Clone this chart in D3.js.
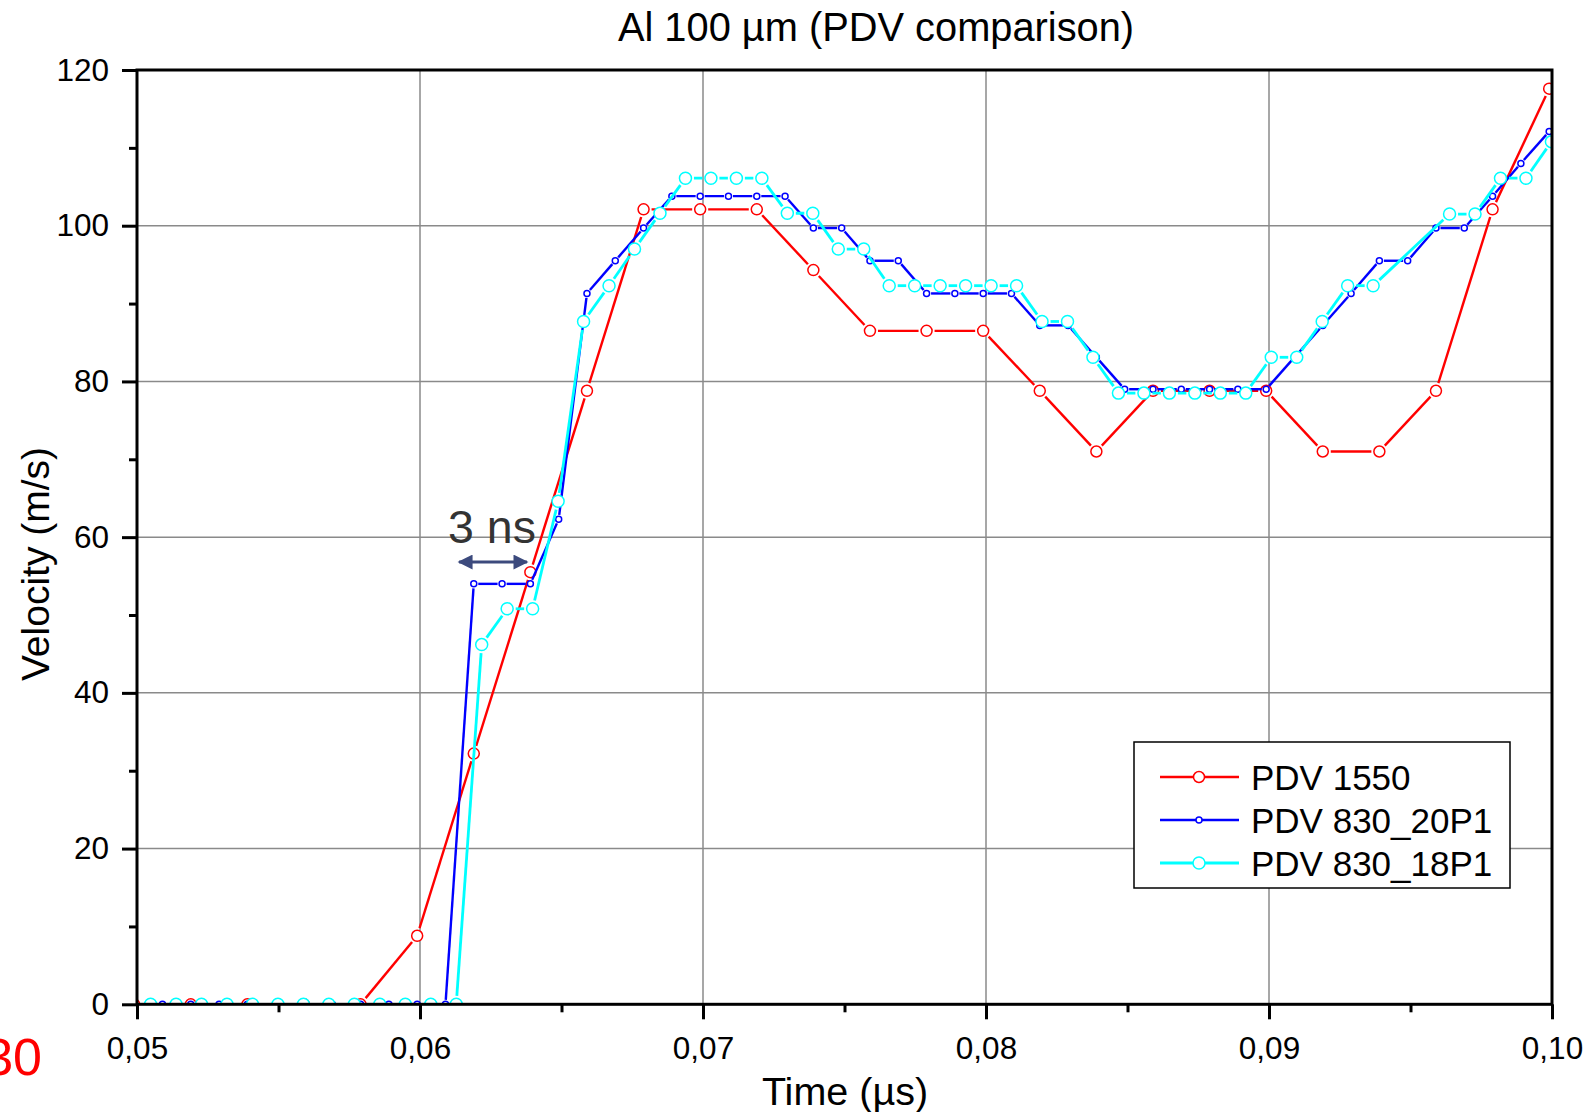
<!DOCTYPE html>
<html><head><meta charset="utf-8">
<script src="https://cdn.jsdelivr.net/npm/d3@7"></script>
<style>
body{margin:0;background:#fff;}
svg text{font-family:"Liberation Sans",Arial,Helvetica,sans-serif;}
</style>
</head><body>
<svg id="chart" width="1593" height="1112"></svg>
<script>
// ---------- DATA ----------
const chartTitle = "Al 100 µm (PDV comparison)";
const xLabel = "Time (µs)";
const yLabel = "Velocity (m/s)";
const seriesNames = ["PDV 1550", "PDV 830_20P1", "PDV 830_18P1"];

const xTickValues = [0.05, 0.06, 0.07, 0.08, 0.09, 0.10];
const xTickLabels = ["0,05", "0,06", "0,07", "0,08", "0,09", "0,10"];
const xMinorTicks = [0.055, 0.065, 0.075, 0.085, 0.095];
const yTickValues = [0, 20, 40, 60, 80, 100, 120];
const yTickLabels = ["0", "20", "40", "60", "80", "100", "120"];
const yMinorTicks = [10, 30, 50, 70, 90, 110];

const redTime = [0.0499,0.0519,0.0539,0.0559,0.0579,0.0599,0.0619,0.0639,0.0659,0.0679,0.0699,0.0719,0.0739,
  0.0759,0.0779,0.0799,0.0819,0.0839,0.0859,0.0879,0.0899,0.0919,0.0939,0.0959,0.0979,0.0999];
const redVel = [0,0,0,0,0,8.8,32.2,55.5,78.8,102.1,102.1,102.1,94.3,
  86.5,86.5,86.5,78.8,71.0,78.8,78.8,78.8,71.0,71.0,78.8,102.1,117.6];

const blueTime = [0.0499,0.0509,0.0519,0.0529,0.0539,0.0549,0.0559,0.0569,0.0579,0.0589,0.0599,0.0609,
  0.0619,0.0629,0.0639,0.0649,0.0659,0.0669,0.0679,0.0689,0.0699,0.0709,0.0719,0.0729,0.0739,0.0749,
  0.0759,0.0769,0.0779,0.0789,0.0799,0.0809,0.0819,0.0829,0.0839,0.0849,0.0859,0.0869,0.0879,0.0889,
  0.0899,0.0909,0.0919,0.0929,0.0939,0.0949,0.0959,0.0969,0.0979,0.0989,0.0999];
const blueVel = [0,0,0,0,0,0,0,0,0,0,0,0,
  54.0,54.0,54.0,62.3,91.3,95.5,99.7,103.8,103.8,103.8,103.8,103.8,99.7,99.7,
  95.5,95.5,91.3,91.3,91.3,91.3,87.2,87.2,83.1,79.0,79.0,79.0,79.0,79.0,
  79.0,83.1,87.2,91.3,95.5,95.5,99.7,99.7,103.8,108.0,112.1];

const cyanTime = [0.05048,0.05138,0.05228,0.05318,0.05408,0.05498,0.05588,0.05678,0.05768,0.05858,
  0.05948,0.06038,0.06128,0.06218,0.06308,0.06398,0.06488,0.06578,0.06668,0.06758,
  0.06848,0.06938,0.07028,0.07118,0.07208,0.07298,0.07388,0.07478,0.07568,0.07658,
  0.07748,0.07838,0.07928,0.08018,0.08108,0.08198,0.08288,0.08378,0.08468,0.08558,
  0.08648,0.08738,0.08828,0.08918,0.09008,0.09098,0.09188,0.09278,0.09368,
  0.09638,0.09728,0.09818,0.09908,0.09998];
const cyanVel = [0,0,0,0,0,0,0,0,0,0,
  0,0,0,46.2,50.8,50.8,64.6,87.7,92.3,97.0,
  101.6,106.1,106.1,106.1,106.1,101.6,101.6,97.0,97.0,92.3,
  92.3,92.3,92.3,92.3,92.3,87.7,87.7,83.1,78.5,78.5,
  78.5,78.5,78.5,78.5,83.1,83.1,87.7,92.3,92.3,
  101.5,101.5,106.1,106.1,110.8];

const annotationText = "3 ns";
const arrowFrom = 0.06138, arrowTo = 0.06378, arrowVel = 56.8;
const cornerText = "30";

// ---------- LAYOUT ----------
const svg = d3.select("#chart");
const L = 137, R = 1552, T = 70, B = 1004.3;
const x = d3.scaleLinear().domain([0.05, 0.10]).range([L, R]);
const y = d3.scaleLinear().domain([0, 120]).range([B, T]);

svg.append("defs").append("clipPath").attr("id","plotclip")
  .append("rect").attr("x",L).attr("y",T).attr("width",R-L).attr("height",B-T);

// grid
const grid = svg.append("g");
grid.selectAll("line.gx").data(xTickValues.slice(1,-1)).join("line")
  .attr("x1",d=>x(d)).attr("x2",d=>x(d)).attr("y1",T).attr("y2",B)
  .attr("stroke","#8a8a8a").attr("stroke-width",1.5);
grid.selectAll("line.gy").data(yTickValues.slice(1,-1)).join("line")
  .attr("y1",d=>y(d)).attr("y2",d=>y(d)).attr("x1",L).attr("x2",R)
  .attr("stroke","#8a8a8a").attr("stroke-width",1.5);

// series
const series = [
  {name:seriesNames[0], t:redTime, v:redVel, color:"#ff0000", r:5.5, w:2.4, gap:2.5},
  {name:seriesNames[1], t:blueTime, v:blueVel, color:"#0000ff", r:3, w:2.4, gap:1.5},
  {name:seriesNames[2], t:cyanTime, v:cyanVel, color:"#00ffff", r:6, w:2.8, gap:2.5}
];

const plot = svg.append("g").attr("clip-path","url(#plotclip)");
series.forEach(s => {
  const pts = s.t.map((t,i)=>[x(t), y(s.v[i])]);
  const segs = [];
  for (let i=0;i<pts.length-1;i++){
    const a=pts[i], b=pts[i+1];
    const dx=b[0]-a[0], dy=b[1]-a[1], len=Math.hypot(dx,dy);
    const off=s.r+s.gap;
    if (len>2*off){
      const ux=dx/len, uy=dy/len;
      segs.push([a[0]+ux*off, a[1]+uy*off, b[0]-ux*off, b[1]-uy*off]);
    }
  }
  const g = plot.append("g");
  g.selectAll("line").data(segs).join("line")
    .attr("x1",d=>d[0]).attr("y1",d=>d[1]).attr("x2",d=>d[2]).attr("y2",d=>d[3])
    .attr("stroke",s.color).attr("stroke-width",s.w);
  g.selectAll("circle").data(pts).join("circle")
    .attr("cx",d=>d[0]).attr("cy",d=>d[1]).attr("r",s.r)
    .attr("fill","white").attr("stroke",s.color).attr("stroke-width",1.5);
});

// frame
svg.append("rect").attr("x",L).attr("y",T).attr("width",R-L).attr("height",B-T)
  .attr("fill","none").attr("stroke","#000").attr("stroke-width",3);

// axes
const fontTick = 31.5;
const xAxis = svg.append("g").attr("transform",`translate(0,${B})`)
  .call(d3.axisBottom(x).tickValues(xTickValues).tickSize(15).tickPadding(17)
    .tickFormat((d,i)=>xTickLabels[i]).tickSizeOuter(0));
xAxis.select(".domain").remove();
xAxis.selectAll("line").attr("stroke","#000").attr("stroke-width",3);
xAxis.selectAll("text").attr("font-size",fontTick).attr("fill","#000");
const xMinor = svg.append("g").attr("transform",`translate(0,${B})`)
  .call(d3.axisBottom(x).tickValues(xMinorTicks).tickSize(8).tickFormat(""));
xMinor.select(".domain").remove();
xMinor.selectAll("line").attr("stroke","#000").attr("stroke-width",3);

const yAxis = svg.append("g").attr("transform",`translate(${L},0)`)
  .call(d3.axisLeft(y).tickValues(yTickValues).tickSize(15).tickPadding(13)
    .tickFormat((d,i)=>yTickLabels[i]).tickSizeOuter(0));
yAxis.select(".domain").remove();
yAxis.selectAll("line").attr("stroke","#000").attr("stroke-width",3);
yAxis.selectAll("text").attr("font-size",fontTick).attr("fill","#000");
const yMinor = svg.append("g").attr("transform",`translate(${L},0)`)
  .call(d3.axisLeft(y).tickValues(yMinorTicks).tickSize(8).tickFormat(""));
yMinor.select(".domain").remove();
yMinor.selectAll("line").attr("stroke","#000").attr("stroke-width",3);
svg.selectAll("g").attr("font-family",null);

// titles
svg.append("text").attr("x",876).attr("y",41).attr("text-anchor","middle")
  .attr("font-size",39.8).attr("fill","#000").text(chartTitle);
svg.append("text").attr("x",845).attr("y",1105).attr("text-anchor","middle")
  .attr("font-size",39.5).attr("fill","#000").text(xLabel);
svg.append("text").attr("transform","translate(49,564) rotate(-90)").attr("text-anchor","middle")
  .attr("font-size",39).attr("fill","#000").text(yLabel);

// annotation
svg.append("text").attr("x",448).attr("y",543).attr("font-size",46.5).attr("fill","#333").text(annotationText);
const defs = svg.select("defs");
defs.append("marker").attr("id","ah").attr("viewBox","0 0 10 10").attr("refX",9).attr("refY",5)
  .attr("markerWidth",6).attr("markerHeight",5).attr("markerUnits","strokeWidth").attr("orient","auto-start-reverse")
  .append("path").attr("d","M0,0 L10,5 L0,10 z").attr("fill","#3c4a7d");
svg.append("line").attr("x1",x(arrowFrom)).attr("x2",x(arrowTo)).attr("y1",y(arrowVel)).attr("y2",y(arrowVel))
  .attr("stroke","#3c4a7d").attr("stroke-width",3)
  .attr("marker-start","url(#ah)").attr("marker-end","url(#ah)");

svg.append("text").attr("x",42).attr("y",1075).attr("text-anchor","end")
  .attr("font-size",52).attr("fill","#ff0000").text(cornerText);

// legend
const lg = svg.append("g");
lg.append("rect").attr("x",1134).attr("y",742).attr("width",376).attr("height",146)
  .attr("fill","white").attr("stroke","#000").attr("stroke-width",1.5);
series.forEach((s,i)=>{
  const cy = 777 + i*43;
  lg.append("line").attr("x1",1160).attr("x2",1239).attr("y1",cy).attr("y2",cy)
    .attr("stroke",s.color).attr("stroke-width",s.w);
  lg.append("circle").attr("cx",1199).attr("cy",cy).attr("r",s.r)
    .attr("fill","white").attr("stroke",s.color).attr("stroke-width",1.5);
  lg.append("text").attr("x",1251).attr("y",cy+12.5).attr("font-size",35).attr("fill","#000").text(s.name);
});
</script>
</body></html>
